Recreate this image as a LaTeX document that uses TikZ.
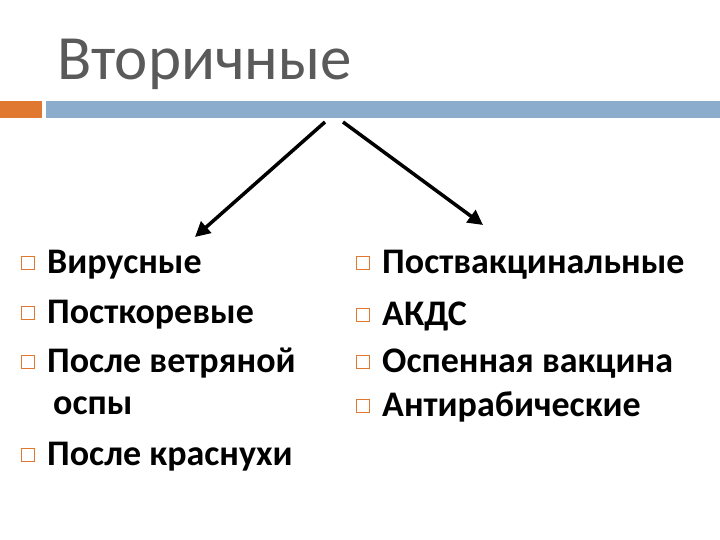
\documentclass[tikz,border=0pt]{standalone}
\usepackage{fontspec}
\setmainfont{Carlito}
\usetikzlibrary{arrows.meta}
\definecolor{orng}{RGB}{224,120,50}
\definecolor{blu}{RGB}{140,172,206}
\definecolor{ttl}{RGB}{90,90,90}
\begin{document}
\begin{tikzpicture}[x=1pt,y=-1pt,
  item/.style={anchor=base west,inner sep=0,font=\fontsize{36}{38}\selectfont\bfseries},
  bul/.style={draw=orng,line width=1.5pt,minimum size=13pt,inner sep=0,fill=white},
  arr/.style={line width=3.5pt,-{Triangle[length=15pt,width=15pt]}}]
\useasboundingbox (0,0) rectangle (720,540);
\fill[orng] (0,101) rectangle (42,118);
\fill[blu] (46,101) rectangle (720,118);
\node[anchor=base west,inner sep=0,text=ttl,font=\fontsize{63}{65}\selectfont] (t) at (57,80) {Вторичные};
\coordinate (a1) at (325,122); \coordinate (a2) at (195,237);
\coordinate (b1) at (343,122); \coordinate (b2) at (483,225);
\draw[arr] (a1) -- (a2);
\draw[arr] (b1) -- (b2);
\foreach \n/\y/\t in {l1/273/Вирусные,l2/323/Посткоревые,l3/372/После ветряной,l5/465/После краснухи}{
  \node[bul] (s\n) at (28,{\y-10}) {};
  \node[item] (\n) at (47,\y) {\t};}
\node[item] (l4) at (53,414) {оспы};
\foreach \n/\y/\t in {r1/273/Поствакцинальные,r2/325/АКДС,r3/372/Оспенная вакцина,r4/416/Антирабические}{
  \node[bul] (s\n) at (363,{\y-10}) {};
  \node[item] (\n) at (382,\y) {\t};}
\end{tikzpicture}
\end{document}
